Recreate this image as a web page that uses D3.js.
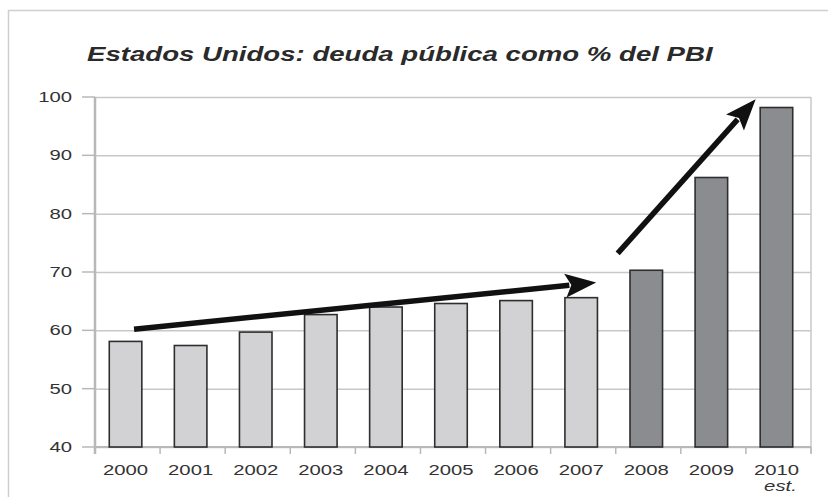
<!DOCTYPE html>
<html>
<head>
<meta charset="utf-8">
<script src="https://cdn.jsdelivr.net/npm/d3@7"></script>
<style>
  body { margin: 0; background: #fff; }
  svg { display: block; font-family: "Liberation Sans", Arial, sans-serif; }
</style>
</head>
<body>
<svg width="828" height="497"></svg>
<script>
const years = ['2000','2001','2002','2003','2004','2005','2006','2007','2008','2009','2010']
const deuda = [58.1, 57.4, 59.7, 62.7, 64.0, 64.6, 65.1, 65.6, 70.3, 86.2, 98.2]
const oscuros = ['2008','2009','2010']
const yTicks = [40, 50, 60, 70, 80, 90, 100]
const titulo = 'Estados Unidos: deuda pública como % del PBI'
// flechas en unidades de datos: indice de año (continuo) y % del PBI
const flecha1 = [{i: 0.1, v: 60.2}, {i: 7.2, v: 68.2}]
const flecha2 = [{i: 7.53, v: 73.2}, {i: 9.65, v: 99.6}]

const dados = years.map((y, k) => ({year: y, value: deuda[k]}))

const svg = d3.select('svg')
const margin = { top: 97, bottom: 50, left: 95, right: 17 }
const W = 828, H = 497
const sx = 1.45 // texto ensanchado como en el original

// marco exterior
svg.append('path')
  .attr('d', `M8.5,${H} V10.5 H${W}`)
  .attr('fill', 'none')
  .attr('stroke', '#cfcfcf')
  .attr('stroke-width', 1.5)

const xScale = d3.scaleBand()
  .domain(years)
  .range([margin.left, W - margin.right])
  .paddingInner(0.5)
  .paddingOuter(0.25)

const yScale = d3.scaleLinear()
  .domain([40, 100])
  .range([H - margin.bottom, margin.top])

const xIdx = i => xScale(years[0]) + xScale.bandwidth() / 2 + i * xScale.step()

/*grid*/
svg.append('g')
  .attr('class', 'grid')
  .attr('transform', `translate(${margin.left},0)`)
  .call(d3.axisLeft(yScale).tickValues(yTicks).tickSize(-(W - margin.left - margin.right)).tickFormat(''))
  .call(g => g.select('.domain').remove())
  .call(g => g.selectAll('line').attr('stroke', '#c8c8c8').attr('stroke-width', 1.5))

// borde derecho
svg.append('line')
  .attr('x1', W - margin.right).attr('x2', W - margin.right)
  .attr('y1', yScale(100)).attr('y2', yScale(40) + 6)
  .attr('stroke', '#c8c8c8').attr('stroke-width', 1.5)

// eje y
svg.append('line')
  .attr('x1', margin.left).attr('x2', margin.left)
  .attr('y1', yScale(100)).attr('y2', yScale(40) + 7)
  .attr('stroke', '#b8b8b8').attr('stroke-width', 2.5)

svg.append('g')
  .selectAll('line')
  .data(yTicks)
  .join('line')
  .attr('x1', margin.left - 13).attr('x2', margin.left)
  .attr('y1', d => yScale(d)).attr('y2', d => yScale(d))
  .attr('stroke', '#b8b8b8').attr('stroke-width', 1.5)

svg.append('g')
  .selectAll('text')
  .data(yTicks)
  .join('text')
  .attr('transform', d => `translate(72,${yScale(d)}) scale(${sx},1)`)
  .attr('dy', '0.36em')
  .attr('text-anchor', 'end')
  .attr('font-size', 14)
  .attr('fill', '#333')
  .text(d => d)

// eje x
svg.append('line')
  .attr('x1', margin.left).attr('x2', W - margin.right)
  .attr('y1', yScale(40)).attr('y2', yScale(40))
  .attr('stroke', '#b8b8b8').attr('stroke-width', 2)

svg.append('g')
  .selectAll('line')
  .data(years.concat(['fin']))
  .join('line')
  .attr('x1', (d, k) => margin.left + k * xScale.step())
  .attr('x2', (d, k) => margin.left + k * xScale.step())
  .attr('y1', yScale(40)).attr('y2', yScale(40) + 7)
  .attr('stroke', '#b8b8b8').attr('stroke-width', 1.5)

svg.append('g')
  .selectAll('text')
  .data(years)
  .join('text')
  .attr('transform', d => `translate(${xScale(d) + xScale.bandwidth() / 2 - 2},475) scale(${sx},1)`)
  .attr('text-anchor', 'middle')
  .attr('font-size', 14)
  .attr('fill', '#333')
  .text(d => d)

svg.append('text')
  .attr('transform', `translate(${xScale('2010') + xScale.bandwidth() / 2 + 2},491) scale(${sx},1)`)
  .attr('text-anchor', 'middle')
  .attr('font-size', 14)
  .attr('font-style', 'italic')
  .attr('fill', '#333')
  .text('est.')

/*barras*/
svg.append('g')
  .selectAll('rect')
  .data(dados)
  .join('rect')
  .attr('x', d => xScale(d.year) - 2)
  .attr('y', d => yScale(d.value))
  .attr('width', xScale.bandwidth())
  .attr('height', d => yScale(40) - yScale(d.value))
  .attr('fill', d => oscuros.includes(d.year) ? '#8b8c90' : '#d2d2d4')
  .attr('stroke', '#2e2e2e')
  .attr('stroke-width', 1.6)

/*flechas*/
function flecha(pts) {
  const x0 = xIdx(pts[0].i), y0 = yScale(pts[0].v)
  const x1 = xIdx(pts[1].i), y1 = yScale(pts[1].v)
  const a = Math.atan2(y1 - y0, x1 - x0)
  const len = 31, half = 12
  const bx = x1 - len * Math.cos(a), by = y1 - len * Math.sin(a)
  const g = svg.append('g')
  g.append('line')
    .attr('x1', x0).attr('y1', y0)
    .attr('x2', bx + 4 * Math.cos(a)).attr('y2', by + 4 * Math.sin(a))
    .attr('stroke', '#111').attr('stroke-width', 5.5)
  g.append('path')
    .attr('d', `M${x1},${y1} L${bx - half * Math.sin(a)},${by + half * Math.cos(a)} L${bx + 6 * Math.cos(a)},${by + 6 * Math.sin(a)} L${bx + half * Math.sin(a)},${by - half * Math.cos(a)} Z`)
    .attr('fill', '#111')
}
flecha(flecha1)
flecha(flecha2)

/*titulo*/
const t = svg.append('text')
  .attr('font-size', 21)
  .attr('font-weight', 'bold')
  .attr('font-style', 'italic')
  .attr('fill', '#2a2a2a')
  .text(titulo)
const tw = t.node().getComputedTextLength()
t.attr('transform', `translate(87,61) scale(${626 / tw},1)`)
</script>
</body>
</html>
